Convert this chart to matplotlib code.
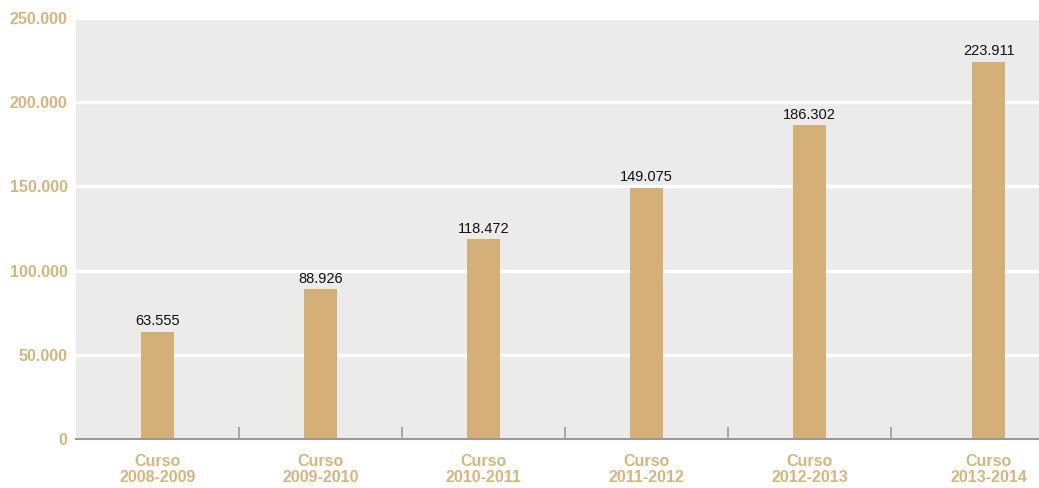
import numpy as np
import matplotlib
matplotlib.use('Agg')
import matplotlib.pyplot as plt
from matplotlib.ticker import FuncFormatter, FixedLocator

# Data
courses = ['Curso\n2008-2009', 'Curso\n2009-2010', 'Curso\n2010-2011',
           'Curso\n2011-2012', 'Curso\n2012-2013', 'Curso\n2013-2014']
students = [63555, 88926, 118472, 149075, 186302, 223911]
y_ticks = [0, 50000, 100000, 150000, 200000, 250000]

gold = '#d4af78'
label_gold = '#d8b57f'
font_list = ['Liberation Sans', 'DejaVu Sans']


def thousands(v, pos=None):
    return f'{int(v):,}'.replace(',', '.')


fig = plt.figure(figsize=(10.39, 4.88), dpi=100)
ax = fig.add_axes([76 / 1039, 49 / 488, 963 / 1039, 421 / 488])
ax.set_facecolor('#ebebeb')

x = np.arange(len(courses), dtype=float)
x[-1] += 0.1  # last bar sits a bit right of its slot
bars = ax.bar(x, students, width=0.2, color=gold, zorder=3)

for bar, value in zip(bars, students):
    ax.text(bar.get_x() + bar.get_width() / 2, value + 2200, thousands(value),
            ha='center', va='bottom', fontsize=10.5, color='#111111',
            family=font_list, zorder=4)

ax.set_xlim(-0.5, 5.408)
ax.set_ylim(0, 250000)
ax.set_yticks(y_ticks)
ax.yaxis.set_major_formatter(FuncFormatter(thousands))
ax.grid(axis='y', color='white', linewidth=2.5, zorder=1)
ax.tick_params(axis='y', length=0, pad=6, labelcolor=label_gold, labelsize=11.5)
for lbl in ax.get_yticklabels():
    lbl.set_family(font_list)
    lbl.set_fontweight('bold')

ax.set_xticks(x)
ax.set_xticklabels(courses)
ax.tick_params(axis='x', which='major', length=0, pad=11,
               labelcolor=label_gold, labelsize=11.5)
for lbl in ax.get_xticklabels():
    lbl.set_family(font_list)
    lbl.set_fontweight('bold')
    lbl.set_linespacing(1.1)

# separators between categories
ax.xaxis.set_minor_locator(FixedLocator([0.5, 1.5, 2.5, 3.5, 4.5]))
ax.tick_params(axis='x', which='minor', direction='in', length=9,
               width=1.2, color='#999999')

for side in ['top', 'right', 'left']:
    ax.spines[side].set_visible(False)
ax.spines['bottom'].set_color('#999999')
ax.spines['bottom'].set_linewidth(1.5)
ax.spines['bottom'].set_zorder(5)

fig.savefig('out.png', dpi=100)
